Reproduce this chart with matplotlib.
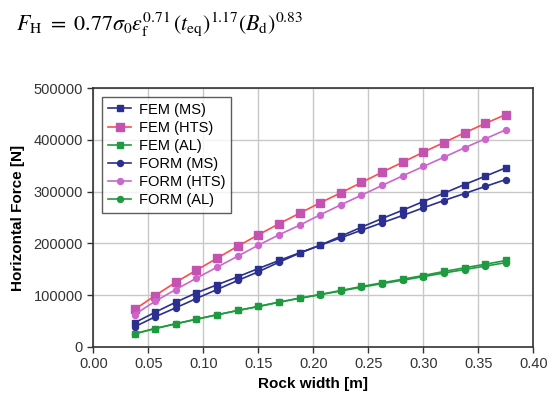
import numpy as np
import matplotlib
matplotlib.use("Agg")
import matplotlib.pyplot as plt

plt.rcParams['font.family'] = ['Liberation Sans', 'DejaVu Sans']
plt.rcParams['mathtext.fontset'] = 'stix'

# rock width [m]
width = [0.0375, 0.05625, 0.075, 0.09375, 0.1125, 0.13125, 0.15, 0.16875, 0.1875,
         0.20625, 0.225, 0.24375, 0.2625, 0.28125, 0.3, 0.31875, 0.3375, 0.35625, 0.375]

fem_ms = [46700, 67200, 86500, 104600, 120100, 135500, 151500, 167000, 181800, 196500,
          213900, 231300, 248100, 264100, 280900, 296900, 313700, 329700, 345900]
fem_hts = [72400, 99400, 125100, 148300, 171400, 194600, 216600, 237800, 258300, 278400,
           297700, 317600, 337500, 356800, 376100, 394800, 413500, 431500, 448800]
fem_al = [25500, 35700, 44800, 53700, 62200, 70500, 78200, 86500, 94200, 101400,
          109100, 116800, 123900, 130900, 138000, 145800, 152900, 159800, 167000]
form_ms = [39000, 58300, 75700, 93600, 111000, 128400, 145200, 163700, 181100, 196500,
           210800, 225500, 239800, 253900, 268700, 282800, 296300, 309900, 323300]
form_hts = [62700, 88400, 111000, 132800, 154100, 175300, 196500, 216600, 235100, 255200,
            274500, 293100, 311800, 330500, 348500, 366400, 384600, 401900, 419300]
form_al = [25500, 35700, 44800, 53700, 62200, 70500, 78200, 86500, 94200, 101000,
           108200, 115500, 122300, 129000, 135800, 142800, 149500, 156200, 162800]

navy = '#2B2F8F'
red = '#FF4B4B'
magenta = '#C452B0'
orchid = '#CC66CC'
green = '#1F9A40'

fig = plt.figure(figsize=(5.48, 3.94), dpi=100)
ax = fig.add_axes([0.1703, 0.1193, 0.8029, 0.6573])

ax.plot(width, fem_ms, color=navy, marker='s', ms=4.8, lw=1.2, label='FEM (MS)')
ax.plot(width, fem_hts, color=red, marker='s', ms=5.3, mfc=magenta, mec=magenta, lw=1.2, label='FEM (HTS)')
ax.plot(width, fem_al, color=green, marker='s', ms=4.8, lw=1.2, label='FEM (AL)')
ax.plot(width, form_ms, color=navy, marker='o', ms=4.3, lw=1.2, label='FORM (MS)')
ax.plot(width, form_hts, color=orchid, marker='o', ms=4.3, lw=1.2, label='FORM (HTS)')
ax.plot(width, form_al, color=green, marker='o', ms=4.3, lw=1.2, label='FORM (AL)')

ax.set_xlim(0, 0.40)
ax.set_ylim(0, 500000)
ax.set_xticks(np.arange(0, 0.41, 0.05))
ax.set_xticklabels(['%.2f' % v for v in np.arange(0, 0.41, 0.05)])
ax.set_yticks(np.arange(0, 500001, 100000))
ax.set_yticklabels(['%d' % v for v in np.arange(0, 500001, 100000)])
ax.grid(True, color='#C8C8C8', lw=1)
ax.set_axisbelow(True)
for s in ax.spines.values():
    s.set_color('#333333')
    s.set_linewidth(1.2)
ax.tick_params(direction='out', length=4, width=1, colors='#333333', labelsize=10.5,
               labelcolor='#333333')

ax.set_xlabel('Rock width [m]', fontsize=11, fontweight='bold', labelpad=4)
ax.set_ylabel('Horizontal Force [N]', fontsize=11, fontweight='bold', labelpad=6)

leg = ax.legend(loc='upper left', fontsize=10.5, frameon=True, fancybox=False,
                borderaxespad=0.6, handlelength=1.6, labelspacing=0.28,
                borderpad=0.4, handletextpad=0.5)
leg.get_frame().set_edgecolor('#333333')
leg.get_frame().set_linewidth(1.0)

fig.text(0.03, 0.925,
         r'$F_{\mathrm{H}}\ =\ 0.77\sigma_0\varepsilon_{\mathrm{f}}^{0.71}\,(t_{\mathrm{eq}})^{1.17}(B_{\mathrm{d}})^{0.83}$',
         fontsize=15.8, va='baseline')

fig.savefig('out.png', dpi=100)
